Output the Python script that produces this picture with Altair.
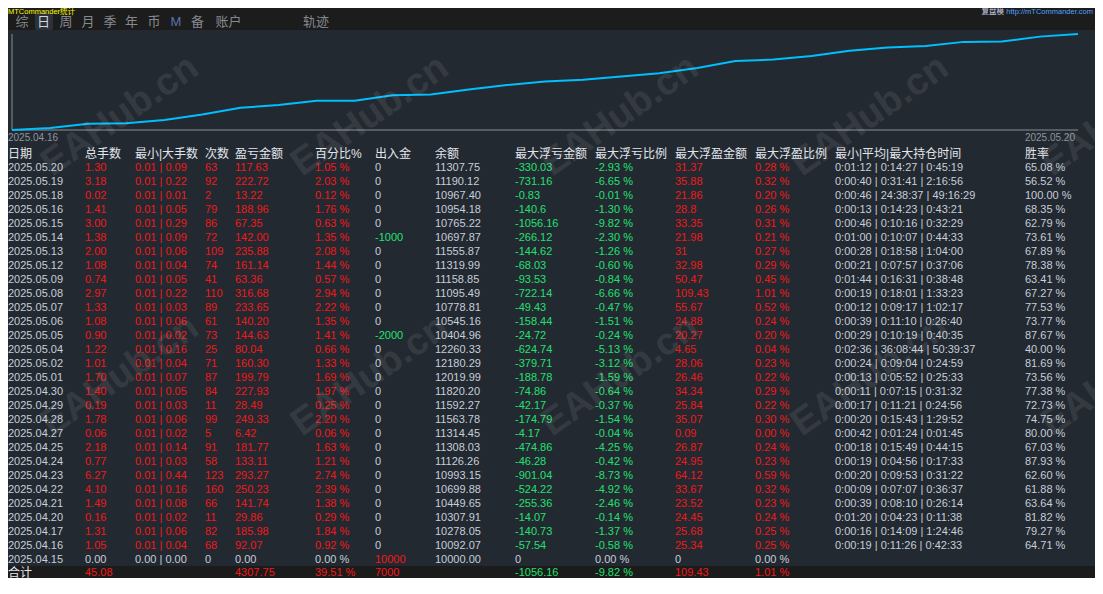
import altair as alt
import pandas as pd

# ---------------- data ----------------
dates = ["2025.05.20", "2025.05.19", "2025.05.18", "2025.05.16", "2025.05.15", "2025.05.14",
         "2025.05.13", "2025.05.12", "2025.05.09", "2025.05.08", "2025.05.07", "2025.05.06",
         "2025.05.05", "2025.05.04", "2025.05.02", "2025.05.01", "2025.04.30", "2025.04.29",
         "2025.04.28", "2025.04.27", "2025.04.25", "2025.04.24", "2025.04.23", "2025.04.22",
         "2025.04.21", "2025.04.20", "2025.04.17", "2025.04.16", "2025.04.15"]
lots = [1.30, 3.18, 0.02, 1.41, 3.00, 1.38, 2.00, 1.08, 0.74, 2.97, 1.33, 1.08, 0.90, 1.22, 1.01,
        1.70, 1.40, 0.19, 1.78, 0.06, 2.18, 0.77, 6.27, 4.10, 1.49, 0.16, 1.31, 1.05, 0.00]
min_lot = [0.01] * 28 + [0.00]
max_lot = [0.09, 0.22, 0.01, 0.05, 0.29, 0.09, 0.06, 0.04, 0.05, 0.22, 0.03, 0.06, 0.02, 0.16, 0.04,
           0.07, 0.05, 0.03, 0.06, 0.02, 0.14, 0.03, 0.44, 0.16, 0.08, 0.02, 0.06, 0.04, 0.00]
trades = [63, 92, 2, 79, 86, 72, 109, 74, 41, 110, 89, 61, 73, 25, 71, 87, 84, 11, 99, 5, 91, 58,
          123, 160, 66, 11, 82, 68, 0]
profit = [117.63, 222.72, 13.22, 188.96, 67.35, 142.00, 235.88, 161.14, 63.36, 316.68, 233.65,
          140.20, 144.63, 80.04, 160.30, 199.79, 227.93, 28.49, 249.33, 6.42, 181.77, 133.11,
          293.27, 250.23, 141.74, 29.86, 185.98, 92.07, 0.00]
pct = [1.05, 2.03, 0.12, 1.76, 0.63, 1.35, 2.08, 1.44, 0.57, 2.94, 2.22, 1.35, 1.41, 0.66, 1.33,
       1.69, 1.97, 0.25, 2.20, 0.06, 1.63, 1.21, 2.74, 2.39, 1.38, 0.29, 1.84, 0.92, 0.00]
deposit = [0, 0, 0, 0, 0, -1000, 0, 0, 0, 0, 0, 0, -2000, 0, 0, 0, 0, 0, 0, 0, 0, 0, 0, 0, 0, 0,
           0, 0, 10000]
balance = [11307.75, 11190.12, 10967.40, 10954.18, 10765.22, 10697.87, 11555.87, 11319.99,
           11158.85, 11095.49, 10778.81, 10545.16, 10404.96, 12260.33, 12180.29, 12019.99,
           11820.20, 11592.27, 11563.78, 11314.45, 11308.03, 11126.26, 10993.15, 10699.88,
           10449.65, 10307.91, 10278.05, 10092.07, 10000.00]
max_dd = ["-330.03", "-731.16", "-0.83", "-140.6", "-1056.16", "-266.12", "-144.62", "-68.03",
          "-93.53", "-722.14", "-49.43", "-158.44", "-24.72", "-624.74", "-379.71", "-188.78",
          "-74.86", "-42.17", "-174.79", "-4.17", "-474.86", "-46.28", "-901.04", "-524.22",
          "-255.36", "-14.07", "-140.73", "-57.54", "0"]
max_dd_pct = [-2.93, -6.65, -0.01, -1.30, -9.82, -2.30, -1.26, -0.60, -0.84, -6.66, -0.47, -1.51,
              -0.24, -5.13, -3.12, -1.59, -0.64, -0.37, -1.54, -0.04, -4.25, -0.42, -8.73, -4.92,
              -2.46, -0.14, -1.37, -0.58, 0.00]
max_fp = ["31.37", "35.88", "21.86", "28.8", "33.35", "21.98", "31", "32.98", "50.47", "109.43",
          "55.67", "24.88", "20.27", "4.65", "28.06", "26.46", "34.34", "25.84", "35.07", "0.09",
          "26.87", "24.95", "64.12", "33.67", "23.52", "24.45", "25.68", "25.34", "0"]
max_fp_pct = [0.28, 0.32, 0.20, 0.26, 0.31, 0.21, 0.27, 0.29, 0.45, 1.01, 0.52, 0.24, 0.20, 0.04,
              0.23, 0.22, 0.29, 0.22, 0.30, 0.00, 0.24, 0.23, 0.59, 0.32, 0.23, 0.24, 0.25, 0.25,
              0.00]
hold = ["0:01:12 | 0:14:27 | 0:45:19", "0:00:40 | 0:31:41 | 2:16:56",
        "0:00:46 | 24:38:37 | 49:16:29", "0:00:13 | 0:14:23 | 0:43:21",
        "0:00:46 | 0:10:16 | 0:32:29", "0:01:00 | 0:10:07 | 0:44:33",
        "0:00:28 | 0:18:58 | 1:04:00", "0:00:21 | 0:07:57 | 0:37:06",
        "0:01:44 | 0:16:31 | 0:38:48", "0:00:19 | 0:18:01 | 1:33:23",
        "0:00:12 | 0:09:17 | 1:02:17", "0:00:39 | 0:11:10 | 0:26:40",
        "0:00:29 | 0:10:19 | 0:40:35", "0:02:36 | 36:08:44 | 50:39:37",
        "0:00:24 | 0:09:04 | 0:24:59", "0:00:13 | 0:05:52 | 0:25:33",
        "0:00:11 | 0:07:15 | 0:31:32", "0:00:17 | 0:11:21 | 0:24:56",
        "0:00:20 | 0:15:43 | 1:29:52", "0:00:42 | 0:01:24 | 0:01:45",
        "0:00:18 | 0:15:49 | 0:44:15", "0:00:19 | 0:04:56 | 0:17:33",
        "0:00:20 | 0:09:53 | 0:31:22", "0:00:09 | 0:07:07 | 0:36:37",
        "0:00:39 | 0:08:10 | 0:26:14", "0:01:20 | 0:04:23 | 0:11:38",
        "0:00:16 | 0:14:09 | 1:24:46", "0:00:19 | 0:11:26 | 0:42:33", ""]
winrate = ["65.08", "56.52", "100.00", "68.35", "62.79", "73.61", "67.89", "78.38", "63.41",
           "67.27", "77.53", "73.77", "87.67", "40.00", "81.69", "73.56", "77.38", "72.73",
           "74.75", "80.00", "67.03", "87.93", "62.60", "61.88", "63.64", "81.82", "79.27",
           "64.71", ""]
headers = ["日期", "总手数", "最小|大手数", "次数", "盈亏金额", "百分比%", "出入金", "余额",
           "最大浮亏金额", "最大浮亏比例", "最大浮盈金额", "最大浮盈比例", "最小|平均|最大持仓时间", "胜率"]
total_label = "合计"
total_lots = 45.08
total_profit = 4307.75
total_pct = 39.51
total_deposit = 7000
total_dd = -1056.16
total_dd_pct = -9.82
total_fp = 109.43
total_fp_pct = 1.01
tabs = ["综", "日", "周", "月", "季", "年", "币", "M", "备", "账户", "轨迹"]
tab_kind = ["tab", "sel", "tab", "tab", "tab", "tab", "tab", "icon", "tab", "tab", "tab"]
title_left = "MTCommander统计"
title_mode = "复盘模"
title_link = "http://mTCommander.com"
watermark = "EAHub.cn"

# ---------------- layout / style ----------------
FONT = "Liberation Sans, Noto Sans CJK SC, sans-serif"
W, H = 1087, 570
BG = "#232931"
COL_X = [0, 77, 127, 197, 227, 307, 367, 427, 507, 587, 667, 747, 827, 1017]
ROW_DOM = [0, 1, 29, 30]
ROW_RNG = [146, 160, 552, 564.5]
TAB_X = [14, 35.5, 58, 80, 102, 123.5, 146, 168, 189.5, 220.5, 308]
KIND_DOM = ["light", "red", "green", "head"]
KIND_RNG = ["#c6ced9", "#f21818", "#22e070", "#e2e6ec"]


def kind(v):
    return "red" if v > 0 else ("green" if v < 0 else "light")


# ---------------- table cells ----------------
cells = []
for i, d in enumerate(dates):
    r = i + 1
    dd = float(max_dd[i])
    fp = float(max_fp[i])
    row = [
        (d, "light"),
        (f"{lots[i]:.2f}", kind(lots[i])),
        (f"{min_lot[i]:.2f} | {max_lot[i]:.2f}", kind(max_lot[i])),
        (str(trades[i]), kind(trades[i])),
        (f"{profit[i]:.2f}", kind(profit[i])),
        (f"{pct[i]:.2f} %", kind(profit[i])),
        (str(deposit[i]), kind(deposit[i])),
        (f"{balance[i]:.2f}", "light"),
        (max_dd[i], kind(dd)),
        (f"{max_dd_pct[i]:.2f} %", kind(dd)),
        (max_fp[i], kind(fp)),
        (f"{max_fp_pct[i]:.2f} %", kind(fp)),
        (hold[i], "light"),
        ((winrate[i] + " %") if winrate[i] else "", "light"),
    ]
    for c, (t, k) in enumerate(row):
        cells.append({"c": c, "r": r, "t": t, "k": k})

tot_r = len(dates) + 1
for c, t, v in [
    (1, f"{total_lots:.2f}", total_lots),
    (4, f"{total_profit:.2f}", total_profit),
    (5, f"{total_pct:.2f} %", total_pct),
    (6, str(total_deposit), total_deposit),
    (8, f"{total_dd:.2f}", total_dd),
    (9, f"{total_dd_pct:.2f} %", total_dd_pct),
    (10, f"{total_fp:.2f}", total_fp),
    (11, f"{total_fp_pct:.2f} %", total_fp_pct),
]:
    cells.append({"c": c, "r": tot_r, "t": t, "k": kind(v)})
cells_df = pd.DataFrame(cells)

head_df = pd.DataFrame({"c": list(range(len(headers))), "r": [0] * len(headers), "t": headers,
                        "k": ["head"] * len(headers)})
head_df = pd.concat([head_df, pd.DataFrame({"c": [0], "r": [tot_r], "t": [total_label], "k": ["head"]})])


def xcol():
    return alt.X("c:Q", scale=alt.Scale(domain=list(range(len(COL_X))), range=COL_X,
                                        nice=False, zero=False), axis=None)


def yrow():
    return alt.Y("r:Q", scale=alt.Scale(domain=ROW_DOM, range=ROW_RNG, nice=False, zero=False),
                 axis=None)


def kcol():
    return alt.Color("k:N", scale=alt.Scale(domain=KIND_DOM, range=KIND_RNG), legend=None)


cells_layer = alt.Chart(cells_df).mark_text(font=FONT, fontSize=11, align="left",
                                            baseline="middle").encode(
    x=xcol(), y=yrow(), text="t:N", color=kcol())
head_layer = alt.Chart(head_df).mark_text(font=FONT, fontSize=12, align="left",
                                          baseline="middle").encode(
    x=xcol(), y=yrow(), text="t:N", color=kcol())

# ---------------- equity curve (x = trading-day index, y = cumulative profit) ----------------
asc_profit = list(reversed(profit))          # 04.15 (start, 0) ... 05.20
cum = []
s = 0.0
for p in asc_profit:
    s += p
    cum.append(round(s, 2))
idx = list(range(len(cum)))
line_df = pd.DataFrame({"i": idx, "cum": cum})
imax = max(idx)
vmax = max(cum)

xs = alt.Scale(domain=[0, imax], range=[4, 1070], nice=False, zero=False)
ys = alt.Scale(domain=[0, vmax], range=[122, 26], nice=False, zero=False)

axis_df = pd.DataFrame({"d0": [0], "d1": [imax], "v0": [0.0], "v1": [vmax]})
x_axis = alt.Chart(axis_df).mark_rule(color="#8b9096", strokeWidth=1).encode(
    x=alt.X("d0:Q", scale=xs, axis=None), x2="d1:Q", y=alt.Y("v0:Q", scale=ys, axis=None))
y_axis = alt.Chart(axis_df).mark_rule(color="#8b9096", strokeWidth=1).encode(
    x=alt.X("d0:Q", scale=xs, axis=None), y=alt.Y("v0:Q", scale=ys, axis=None), y2="v1:Q")

line = alt.Chart(line_df).mark_line(color="#00bfff", strokeWidth=2).encode(
    x=alt.X("i:Q", scale=xs, axis=None), y=alt.Y("cum:Q", scale=ys, axis=None), order="i:Q")

lab_l = alt.Chart(pd.DataFrame({"i": [0], "v": [0.0], "t": [dates[-2]]})).mark_text(
    font=FONT, fontSize=10, color="#8e959e", align="left", baseline="middle", dx=-4, dy=8).encode(
    x=alt.X("i:Q", scale=xs, axis=None), y=alt.Y("v:Q", scale=ys, axis=None), text="t:N")
lab_r = alt.Chart(pd.DataFrame({"i": [imax], "v": [0.0], "t": [dates[0]]})).mark_text(
    font=FONT, fontSize=10, color="#8e959e", align="right", baseline="middle", dx=-3, dy=8).encode(
    x=alt.X("i:Q", scale=xs, axis=None), y=alt.Y("v:Q", scale=ys, axis=None), text="t:N")

# ---------------- panels, tabs, titles ----------------
one = pd.DataFrame({"a": [0]})
top_bar = alt.Chart(one).mark_rect(color="#1c1c1c").encode(
    x=alt.value(0), x2=alt.value(W), y=alt.value(0), y2=alt.value(22))
tab_hl = alt.Chart(one).mark_rect(color="#2c323b", cornerRadius=2).encode(
    x=alt.value(27), x2=alt.value(45), y=alt.value(5), y2=alt.value(22))
total_bg = alt.Chart(one).mark_rect(color="#1b1b1b").encode(
    x=alt.value(0), x2=alt.value(W), y=alt.value(558), y2=alt.value(H))

tabs_df = pd.DataFrame({"t": tabs, "x": TAB_X, "k": tab_kind})
tabs_layer = alt.Chart(tabs_df).mark_text(font=FONT, fontSize=13, align="center",
                                          baseline="middle").encode(
    x=alt.X("x:Q", scale=None, axis=None), y=alt.value(14), text="t:N",
    color=alt.Color("k:N", scale=alt.Scale(domain=["tab", "sel", "icon"],
                                           range=["#858a91", "#d2d6dc", "#5a72ad"]), legend=None))

t_left = alt.Chart(one).mark_text(text=title_left, font=FONT, fontSize=7.5, color="#ffff00",
                                  align="left", baseline="top").encode(
    x=alt.value(0), y=alt.value(0))
t_mode = alt.Chart(one).mark_text(text=title_mode, font=FONT, fontSize=7.5, color="#c9d4e4",
                                  align="right", baseline="top").encode(
    x=alt.value(996), y=alt.value(0))
t_link = alt.Chart(one).mark_text(text=title_link, font=FONT, fontSize=7.5, color="#4fa3ff",
                                  align="right", baseline="top").encode(
    x=alt.value(1085), y=alt.value(0))

# ---------------- watermark ----------------
wm = [{"x": 112 + 250 * i, "y": 108 + 260 * j} for i in range(5) for j in range(2)]
wm_layer = alt.Chart(pd.DataFrame(wm)).mark_text(
    text=watermark, font="Liberation Sans", fontSize=38, fontWeight="bold", angle=325,
    color="#ffffff", opacity=0.08, align="center", baseline="middle").encode(
    x=alt.X("x:Q", scale=None, axis=None), y=alt.Y("y:Q", scale=None, axis=None))

chart = alt.layer(
    top_bar, tab_hl, total_bg, t_left, t_mode, t_link, tabs_layer,
    x_axis, y_axis, line, lab_l, lab_r,
    head_layer, cells_layer, wm_layer,
).resolve_scale(x="independent", y="independent", color="independent").properties(
    width=W, height=H, background=BG, padding=0,
    autosize=alt.AutoSizeParams(type="none"),
).configure_view(stroke=None)

chart.save("out.html", embed_options={"renderer": "svg", "actions": False})
